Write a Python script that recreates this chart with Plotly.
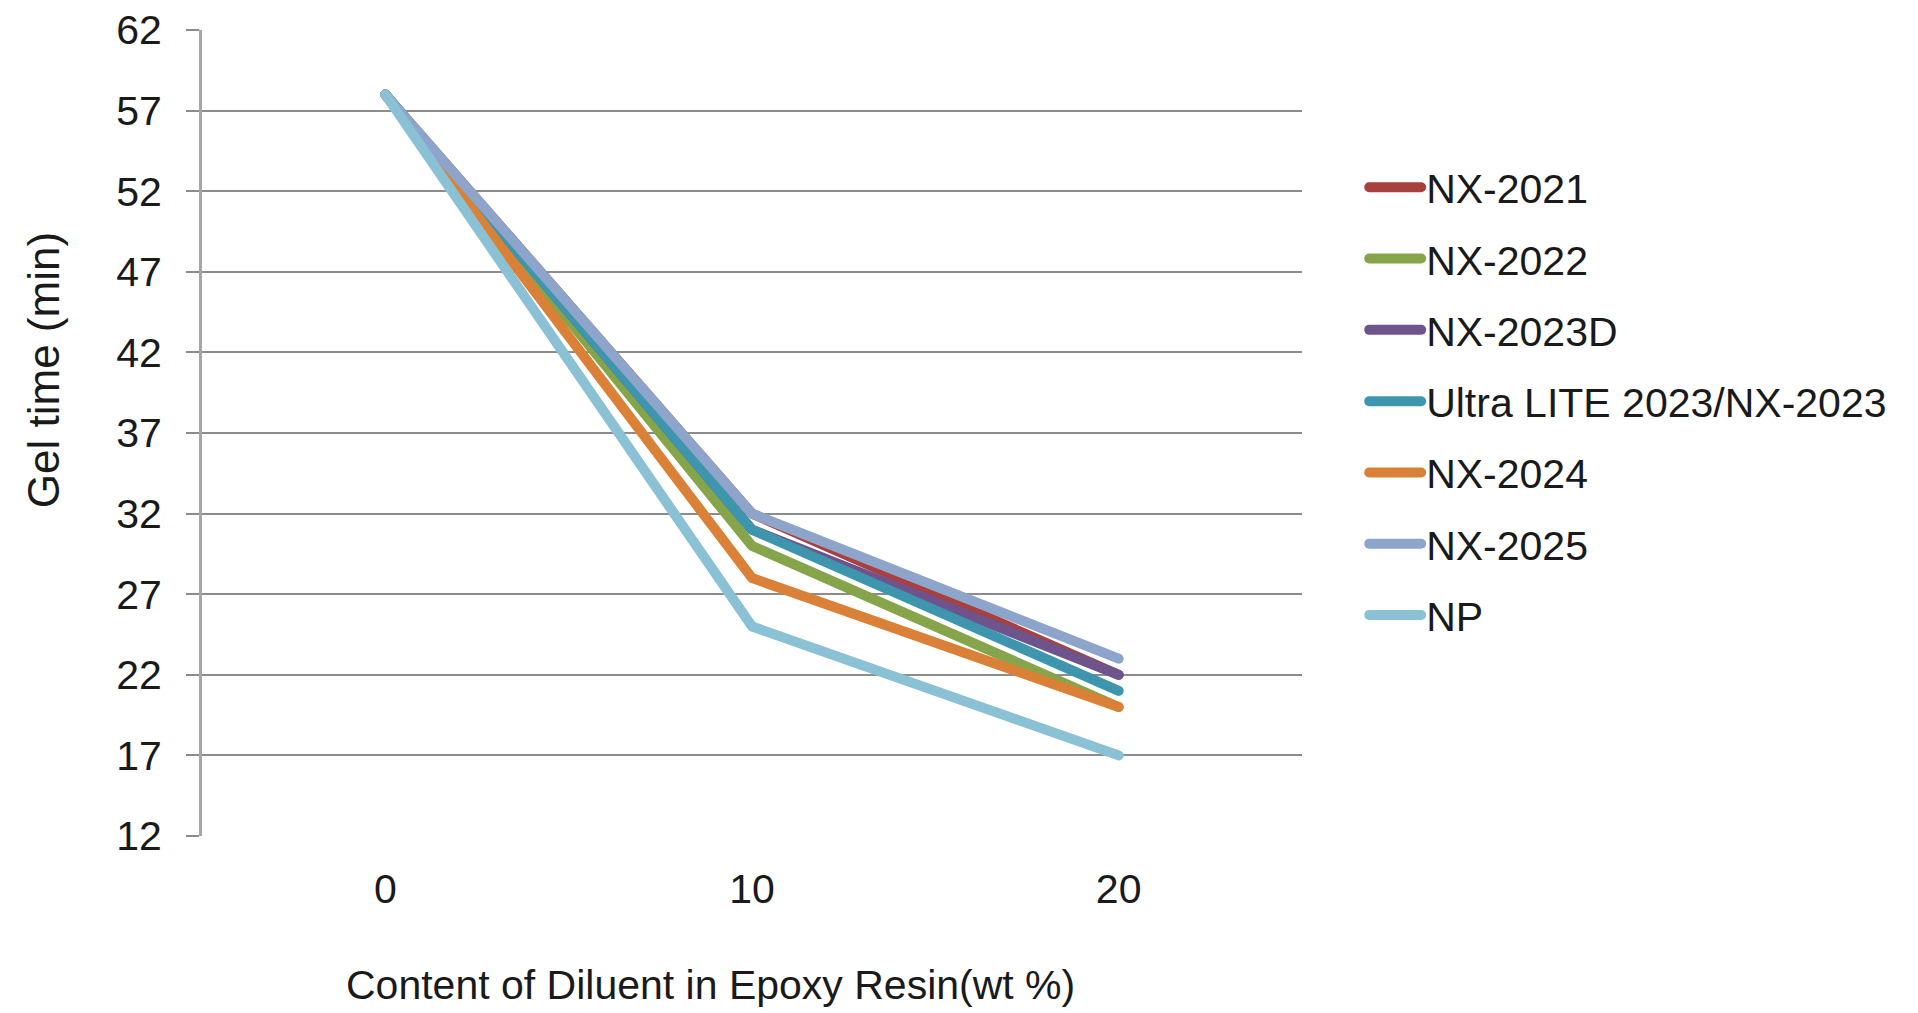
import plotly.graph_objects as go

categories = ["0", "10", "20"]
series_names = ["NX-2021", "NX-2022", "NX-2023D", "Ultra LITE 2023/NX-2023", "NX-2024", "NX-2025", "NP"]
nx2021 = [58, 32, 22]
nx2022 = [58, 30, 20]
nx2023d = [58, 31, 22]
ultralite = [58, 31, 21]
nx2024 = [58, 28, 20]
nx2025 = [58, 32, 23]
np_vals = [58, 25, 17]
colors = ["#A8403F", "#86A44A", "#6E548D", "#3D96AE", "#DA8137", "#8EA5CB", "#8BC1D5"]
y_ticks = [12, 17, 22, 27, 32, 37, 42, 47, 52, 57, 62]
x_title = "Content of Diluent in Epoxy Resin(wt %)"
y_title = "Gel time (min)"

all_series = [nx2021, nx2022, nx2023d, ultralite, nx2024, nx2025, np_vals]

FONT = "Helvetica Neue, Liberation Sans, Arial, sans-serif"

fig = go.Figure()
for i, (name, vals) in enumerate(zip(series_names, all_series)):
    fig.add_trace(go.Scatter(
        x=categories, y=vals, name=name, mode="lines",
        line=dict(color=colors[i], width=10),
        legendgroup=f"g{i}",
    ))

fig.update_layout(
    width=1918, height=1013,
    margin=dict(l=202, r=616, t=30, b=177, autoexpand=False),
    paper_bgcolor="white", plot_bgcolor="white",
    font=dict(family=FONT, size=41, color="#1a1a1a"),
    showlegend=True,
    legend=dict(
        x=1.0565, xanchor="left", y=0.846, yanchor="top",
        font=dict(size=41, color="#1a1a1a"),
        tracegroupgap=15, traceorder="grouped",
        itemwidth=52, bgcolor="rgba(0,0,0,0)",
    ),
    xaxis=dict(
        type="category", range=[-0.5, 2.5],
        showgrid=False, zeroline=False,
        showline=False, ticks="",
        ticklabelstandoff=25, automargin=False,
    ),
    yaxis=dict(
        range=[12, 62], tickvals=y_ticks,
        showgrid=True, gridcolor="#8c8c8c", gridwidth=2,
        zeroline=False, automargin=False,
        showline=True, linecolor="#a6a6a6", linewidth=3,
        ticks="outside", ticklen=13, tickcolor="#8c8c8c", tickwidth=2,
        ticklabelstandoff=16,
    ),
    annotations=[
        dict(text=x_title, xref="paper", yref="paper", x=0.462, y=-0.1849,
             xanchor="center", yanchor="middle", showarrow=False, font=dict(size=41)),
        dict(text=y_title, xref="paper", yref="paper", x=-0.1445, y=0.578,
             xanchor="center", yanchor="middle", showarrow=False, textangle=-90,
             font=dict(size=44)),
    ],
)

post = """
var s=document.createElement('style');
s.innerHTML='body{margin:0 !important;overflow:hidden;} .js-line{stroke-linecap:round !important;stroke-linejoin:round !important;}';
document.head.appendChild(s);
"""
fig.write_html("out.html", post_script=post, config={"displayModeBar": False})
